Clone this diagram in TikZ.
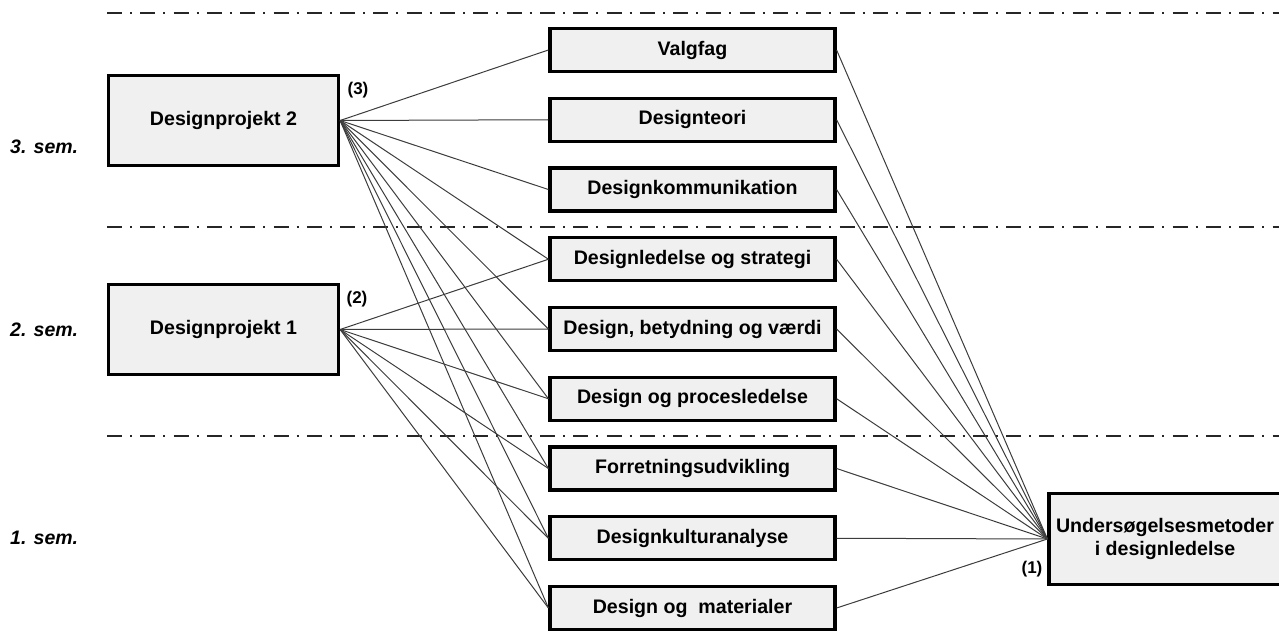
\documentclass[tikz,border=0pt]{standalone}
\usepackage{fontspec}
\setmainfont{Liberation Sans}
\begin{document}
\begin{tikzpicture}[x=1pt,y=-1pt,
  boxstyle/.style={draw=black,line width=3.2pt,fill=boxgray,rectangle,inner sep=0pt,
    font=\fontsize{19.6}{23}\selectfont\bfseries,align=center},
  midbox/.style={boxstyle,minimum width=285pt,minimum height=43pt},
  projbox/.style={boxstyle,minimum width=230pt,minimum height=90pt},
  conn/.style={draw=linegray,line width=1pt},
  semline/.style={draw=black!85,line width=2pt,dash pattern=on 15pt off 8pt on 2pt off 8.3pt},
  semlabel/.style={anchor=west,inner sep=0pt,font=\fontsize{19.5}{22}\selectfont\bfseries\itshape},
  numlabel/.style={inner sep=0pt,font=\fontsize{17}{19}\selectfont\bfseries}
]
\definecolor{boxgray}{HTML}{F0F0F0}
\definecolor{linegray}{HTML}{3C3C3C}
\useasboundingbox (0,0) rectangle (1279,636);

% semester separators
\coordinate (s1a) at (107,13);  \coordinate (s1b) at (1279,13);
\coordinate (s2a) at (107,227); \coordinate (s2b) at (1279,227);
\coordinate (s3a) at (107,436); \coordinate (s3b) at (1279,436);
\draw[semline] (s1a) -- (s1b);
\draw[semline] (s2a) -- (s2b);
\draw[semline] (s3a) -- (s3b);

% semester labels
\node[semlabel] (sem3) at (10,147) {3. sem.};
\node[semlabel] (sem2) at (10,330) {2. sem.};
\node[semlabel] (sem1) at (10,538) {1. sem.};

% project boxes
\node[projbox] (dp2) at (223.5,120.5) {Designprojekt 2};
\node[projbox] (dp1) at (223.5,329.5) {Designprojekt 1};

% middle boxes
\node[midbox] (m1) at (692.5,50) {Valgfag};
\node[midbox] (m2) at (692.5,119.75) {Designteori};
\node[midbox] (m3) at (692.5,189.5) {Designkommunikation};
\node[midbox] (m4) at (692.5,259.25) {Designledelse og strategi};
\node[midbox] (m5) at (692.5,329) {Design, betydning og værdi};
\node[midbox] (m6) at (692.5,398.75) {Design og procesledelse};
\node[midbox] (m7) at (692.5,468.5) {Forretningsudvikling};
\node[midbox] (m8) at (692.5,538.25) {Designkulturanalyse};
\node[midbox] (m9) at (692.5,608) {Design og\ \ materialer};

% method box
\node[boxstyle,minimum width=232pt,minimum height=91pt] (um) at (1165,539)
  {Undersøgelsesmetoder\\i designledelse};

% numbers
\node[numlabel] (n3) at (358,90) {(3)};
\node[numlabel] (n2) at (357,299) {(2)};
\node[numlabel] (n1) at (1032,569) {(1)};

% connectors
\foreach \m in {m1,m2,m3,m4,m5,m6,m7,m8,m9}
  \draw[conn] (dp2.east) -- (\m.west);
\foreach \m in {m4,m5,m6,m7,m8,m9}
  \draw[conn] (dp1.east) -- (\m.west);
\foreach \m in {m1,m2,m3,m4,m5,m6,m7,m8,m9}
  \draw[conn] (\m.east) -- (um.west);
\end{tikzpicture}
\end{document}
